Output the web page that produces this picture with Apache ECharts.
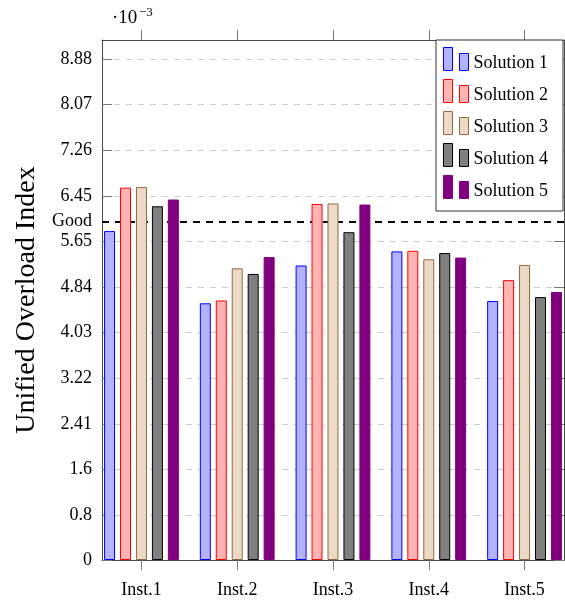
<!DOCTYPE html>
<html>
<head>
<meta charset="utf-8">
<script src="https://cdn.jsdelivr.net/npm/echarts@6/dist/echarts.min.js"></script>
<style>
  html, body { margin: 0; padding: 0; background: #fff; }
  #chart { width: 565px; height: 603px; }
</style>
</head>
<body>
<div id="chart"></div>
<script>
// Instances on the x axis
const categories = ['Inst.1', 'Inst.2', 'Inst.3', 'Inst.4', 'Inst.5'];

// Unified overload index per solution (units of 1e-3)
const solution1 = [5.83, 4.55, 5.22, 5.47, 4.59];
const solution2 = [6.60, 4.60, 6.31, 5.48, 4.96];
const solution3 = [6.61, 5.17, 6.32, 5.33, 5.23];
const solution4 = [6.27, 5.07, 5.81, 5.44, 4.66];
const solution5 = [6.39, 5.37, 6.30, 5.36, 4.75];

const seriesNames = ['Solution 1', 'Solution 2', 'Solution 3', 'Solution 4', 'Solution 5'];

// "Good" threshold
const goodThreshold = 6.0;

// Y tick labels
const yTicks = [0, 0.8, 1.6, 2.41, 3.22, 4.03, 4.84, 5.65, 6.45, 7.26, 8.07, 8.88];

const FONT = "'Liberation Serif', 'Times New Roman', serif";
const AXIS_COLOR = '#4a4a4a';
const TICK_COLOR = '#777';

const seriesValues = [solution1, solution2, solution3, solution4, solution5];
const palette = [
  { fill: '#b3b3ff', border: '#0000ff' },
  { fill: '#ffb3b3', border: '#ff0000' },
  { fill: '#ecd9c6', border: '#8f6a45' },
  { fill: '#808080', border: '#000000' },
  { fill: '#800080', border: '#800080' }
];

// category positions on a numeric axis so the outer padding can be tuned
const catPositions = categories.map((_, i) => i + 1);
const xMin = 0.588, xMax = 5.412;
const yMax = 9.217;

const chart = echarts.init(document.getElementById('chart'), null, { renderer: 'canvas' });

const barSeries = seriesNames.map((name, k) => ({
  name: name,
  type: 'bar',
  xAxisIndex: 0,
  yAxisIndex: 0,
  barWidth: 11,
  barGap: '45%',
  z: 3,
  silent: true,
  data: seriesValues[k].map((v, i) => [catPositions[i], v]),
  itemStyle: { color: palette[k].fill, borderColor: palette[k].border, borderWidth: 1 }
}));

// threshold line sits behind the bars
const thresholdSeries = {
  name: 'threshold',
  type: 'line',
  xAxisIndex: 0,
  yAxisIndex: 0,
  data: [],
  z: 1,
  silent: true,
  markLine: {
    symbol: 'none',
    silent: true,
    z: 1,
    lineStyle: { color: '#000', type: [7, 6], width: 2 },
    label: {
      position: 'start',
      formatter: 'Good',
      fontFamily: FONT,
      fontSize: 18,
      color: '#000',
      distance: 10
    },
    data: [{ yAxis: goodThreshold }]
  }
};

const tickAxisCommon = {
  type: 'value',
  min: xMin,
  max: xMax,
  splitLine: { show: false },
  axisLine: { show: true, onZero: false, lineStyle: { color: AXIS_COLOR, width: 1 } }
};

// legend glyph: a tall and a short bar, with empty room underneath so the
// label sits slightly below the glyph centre
const legendIcon = 'path://M0,0h9v23h-9zM16,6h9v17h-9zM0,31L0.01,31';

const option = {
  animation: false,
  backgroundColor: '#fff',
  grid: { left: 102, right: 1, top: 40, bottom: 43, containLabel: false },
  xAxis: [
    Object.assign({}, tickAxisCommon, {
      position: 'bottom',
      axisTick: { show: true, inside: false, length: 10, customValues: catPositions, lineStyle: { color: TICK_COLOR } },
      axisLabel: {
        show: true,
        customValues: catPositions,
        formatter: v => categories[Math.round(v) - 1],
        fontFamily: FONT,
        fontSize: 18,
        color: '#000',
        margin: 21
      }
    }),
    Object.assign({}, tickAxisCommon, {
      position: 'top',
      axisTick: { show: true, inside: false, length: 10, customValues: catPositions, lineStyle: { color: TICK_COLOR } },
      axisLabel: { show: false }
    })
  ],
  yAxis: [
    {
      type: 'value',
      min: 0,
      max: yMax,
      position: 'left',
      axisLine: { show: true, onZero: false, lineStyle: { color: AXIS_COLOR, width: 1 } },
      axisTick: { show: true, inside: true, length: 10, customValues: yTicks, lineStyle: { color: TICK_COLOR } },
      axisLabel: {
        show: true,
        customValues: yTicks,
        formatter: v => String(v),
        fontFamily: FONT,
        fontSize: 18,
        color: '#000',
        margin: 10
      },
      splitLine: { show: true, lineStyle: { color: '#cccccc', type: [6, 6], width: 1 } }
    },
    {
      type: 'value',
      min: 0,
      max: yMax,
      position: 'right',
      axisLine: { show: true, onZero: false, lineStyle: { color: AXIS_COLOR, width: 1 } },
      axisTick: { show: true, inside: true, length: 10, customValues: yTicks, lineStyle: { color: TICK_COLOR } },
      axisLabel: { show: false },
      splitLine: { show: false }
    }
  ],
  legend: {
    orient: 'vertical',
    left: 436,
    top: 40,
    itemWidth: 25,
    itemHeight: 31,
    itemGap: 0,
    padding: [7, 15, 4, 7],
    borderColor: '#333',
    borderWidth: 1,
    borderRadius: 0,
    backgroundColor: '#fff',
    selectedMode: false,
    icon: legendIcon,
    textStyle: { fontFamily: FONT, fontSize: 18, color: '#000' },
    data: seriesNames.map((n, k) => ({
      name: n,
      itemStyle: { color: palette[k].fill, borderColor: palette[k].border, borderWidth: 1 }
    }))
  },
  graphic: [
    {
      type: 'text',
      x: 27,
      y: 300,
      rotation: Math.PI / 2,
      silent: true,
      style: { text: 'Unified Overload Index', font: '28px ' + FONT, fill: '#000', align: 'center', verticalAlign: 'middle' }
    },
    {
      type: 'text',
      x: 112,
      y: 18,
      silent: true,
      style: { text: '·10', font: '19px ' + FONT, fill: '#000', align: 'left', verticalAlign: 'middle' }
    },
    {
      type: 'text',
      x: 139,
      y: 12.5,
      silent: true,
      style: { text: '−3', font: '13px ' + FONT, fill: '#000', align: 'left', verticalAlign: 'middle' }
    }
  ],
  series: barSeries.concat([thresholdSeries])
};

chart.setOption(option);
</script>
</body>
</html>
